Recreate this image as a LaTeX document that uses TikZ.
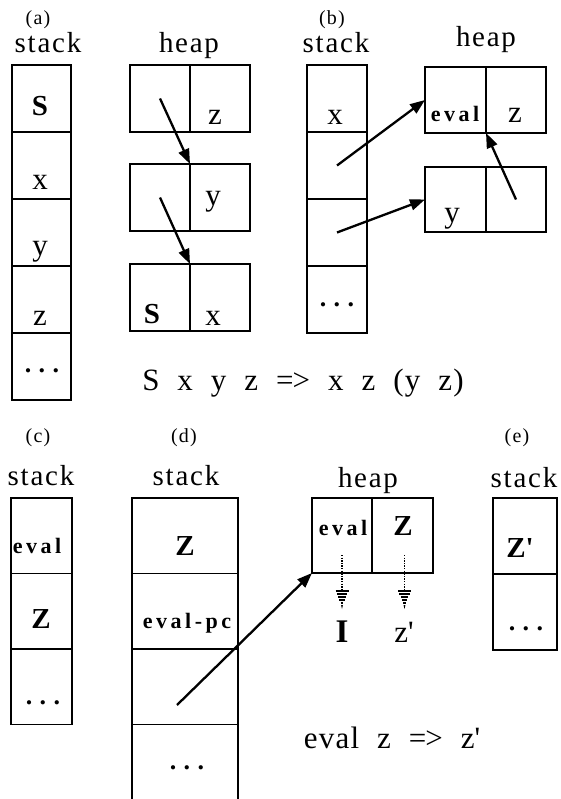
\documentclass[tikz,border=0pt]{standalone}
\usepackage{fontspec}
\setmainfont{Liberation Serif}
\usetikzlibrary{arrows.meta}
% letter-spaced faces used for the captions and the cell tags
\newfontfamily\capfont[LetterSpace=6]{Liberation Serif}
\newfontfamily\tagfont[LetterSpace=16]{Liberation Serif}
\newfontfamily\dotfont[LetterSpace=28]{Liberation Serif}
\newfontfamily\rulefont[LetterSpace=4,WordSpace=2.0]{Liberation Serif}
\newcommand\sz[1]{\fontsize{#1}{#1}\selectfont}

\tikzset{
  cell/.style={draw, line width=1.9pt, anchor=north west, inner sep=0pt, outer sep=0pt},
  sa/.style={cell, minimum width=59pt, minimum height=67pt},
  ha/.style={cell, minimum width=60pt, minimum height=67pt},
  sb/.style={cell, minimum width=60pt, minimum height=67pt},
  hbl/.style={cell, minimum width=61pt, minimum height=#1},
  hbr/.style={cell, minimum width=60pt, minimum height=#1},
  sc/.style={cell, minimum width=61pt, minimum height=75.5pt},
  sd/.style={cell, minimum width=106pt, minimum height=75.5pt},
  hdl/.style={cell, minimum width=60pt, minimum height=75pt},
  hdr/.style={cell, minimum width=61pt, minimum height=75pt},
  se/.style={cell, minimum width=64pt, minimum height=76pt},
  tx/.style={anchor=base, inner sep=0pt, font=\sz{31}},
  txb/.style={anchor=base, inner sep=0pt, font=\bfseries\sz{29}},
  tag/.style={anchor=base, inner sep=0pt, font=\tagfont\bfseries\sz{22}},
  dots/.style={anchor=center, inner sep=0pt, font=\dotfont\bfseries\sz{26}},
  title/.style={anchor=base, inner sep=0pt, font=\capfont\sz{29}},
  panel/.style={anchor=center, inner sep=0pt, font=\capfont\sz{20}},
  rule/.style={anchor=base, inner sep=0pt, font=\rulefont\sz{31}},
  arr/.style={line width=2.3pt, -{Triangle[length=15pt,width=11pt]}},
  dotline/.style={line width=1.8pt, dash pattern=on 1.3pt off 1.3pt},
  stripetip/.pic={
    \foreach \k/\w in {0/6.5,3/5.2,6/3.9,9/2.6,12/1.3}
      \draw[line width=1.4pt] (-\w,\k) -- (\w,\k);
    \fill (-0.9,14) -- (0.9,14) -- (0,18) -- cycle;
  },
}

\begin{document}
\begin{tikzpicture}[x=1pt, y=-1pt]
\useasboundingbox[fill=white] (0,0) rectangle (560,799);

% ---------- (a) ----------
\node[panel] (pa) at (38,20) {(a)};
\node[title] (sta) at (48,53) {stack};
\node[title] (hpa) at (189,53) {heap};
\node[sa] (a1) at (12,65) {};
\node[sa] (a2) at (12,132) {};
\node[sa] (a3) at (12,199) {};
\node[sa] (a4) at (12,266) {};
\node[sa] (a5) at (12,333) {};
\node[txb] (ta1) at (40,116) {S};
\node[tx] (ta2) at (40,190) {x};
\node[tx] (ta3) at (40,255) {y};
\node[tx] (ta4) at (40,325) {z};
\node[dots] (ta5) at (42,371) {...};

\node[ha] (h1l) at (130,65) {};
\node[ha] (h1r) at (190,65) {};
\node[ha] (h2l) at (130,164) {};
\node[ha] (h2r) at (190,164) {};
\node[ha] (h3l) at (130,264) {};
\node[ha] (h3r) at (190,264) {};
\node[tx] (th1) at (215,125) {z};
\node[tx] (th2) at (213,206) {y};
\node[txb] (th3) at (152,323) {S};
\node[tx] (th4) at (213,325) {x};
\draw[arr] (h1l.center) -- (h2l.north east);
\draw[arr] (h2l.center) -- (h3l.north east);

% ---------- (b) ----------
\node[panel] (pb) at (332,20) {(b)};
\node[title] (stb) at (336,53) {stack};
\node[title] (hpb) at (486,47) {heap};
\node[sb] (b1) at (307,65) {};
\node[sb] (b2) at (307,132) {};
\node[sb] (b3) at (307,199) {};
\node[sb] (b4) at (307,266) {};
\node[tx] (tb1) at (335,125) {x};
\node[dots] (tb4) at (337,305) {...};

\node[hbl=66pt] (g1l) at (425,67) {};
\node[hbr=66pt] (g1r) at (486,67) {};
\node[hbl=65pt] (g2l) at (425,167) {};
\node[hbr=65pt] (g2r) at (486,167) {};
\node[tag] (tg1) at (455,122) {eval};
\node[tx] (tg2) at (515,123) {z};
\node[tx] (tg3) at (452,223) {y};
\draw[arr] (b2.center) -- (g1l.west);
\draw[arr] (b3.center) -- (g2l.west);
\draw[arr] (g2r.center) -- (g1l.south east);

\node[rule] (rule1) at (303,390) {S x y z =\kern-1pt> x z (y z)};

% ---------- (c) ----------
\node[panel] (pc) at (38,438) {(c)};
\node[title] (stc) at (41,485) {stack};
\node[sc] (c1) at (11,498) {};
\node[sc] (c2) at (11,573.5) {};
\node[sc] (c3) at (11,649) {};
\node[tag] (tc1) at (37,553) {eval};
\node[txb] (tc2) at (41,628) {Z};
\node[dots] (tc3) at (43,703) {...};

% ---------- (d) ----------
\node[panel] (pd) at (184,438) {(d)};
\node[title] (std) at (186,485) {stack};
\node[title] (hpd) at (368,487) {heap};
\node[sd] (d1) at (132,498) {};
\node[sd] (d2) at (132,573.5) {};
\node[sd] (d3) at (132,649) {};
\node[sd] (d4) at (132,724.5) {};
\node[txb] (td1) at (185,555) {Z};
\node[tag] (td2) at (187,628) {eval-pc};
\node[dots] (td4) at (187,768) {...};

\node[hdl] (k1l) at (312,498) {};
\node[hdr] (k1r) at (372,498) {};
\node[tag] (tk1) at (343,535) {eval};
\node[txb] (tk2) at (403,535) {Z};
\node[txb, font=\bfseries\sz{33}] (tk3) at (342,642) {I};
\node[tx] (tk4) at (404,642) {z\textquotesingle};

\coordinate (dstart) at (177,705);
\draw[arr] (dstart) -- (k1l.south west);

\coordinate (q1a) at ([yshift=18pt]k1l.south);
\coordinate (q1b) at ([yshift=-18pt]k1l.south);
\coordinate (q2a) at ([xshift=2pt,yshift=18pt]k1r.south);
\coordinate (q2b) at ([xshift=2pt,yshift=-18pt]k1r.south);
\draw[dotline] (q1a) -- (q1b);
\draw[dotline] (q2a) -- (q2b);
\pic at (q1b) {stripetip};
\pic at (q2b) {stripetip};

\node[rule] (rule2) at (392,748) {eval z =\kern-1pt> z\textquotesingle};

% ---------- (e) ----------
\node[panel] (pe) at (517,438) {(e)};
\node[title] (ste) at (524,487) {stack};
\node[se] (e1) at (493,498) {};
\node[se] (e2) at (493,574) {};
\node[txb] (te1) at (520,557) {Z\textquotesingle};
\node[dots] (te2) at (526,629) {...};
\end{tikzpicture}
\end{document}
